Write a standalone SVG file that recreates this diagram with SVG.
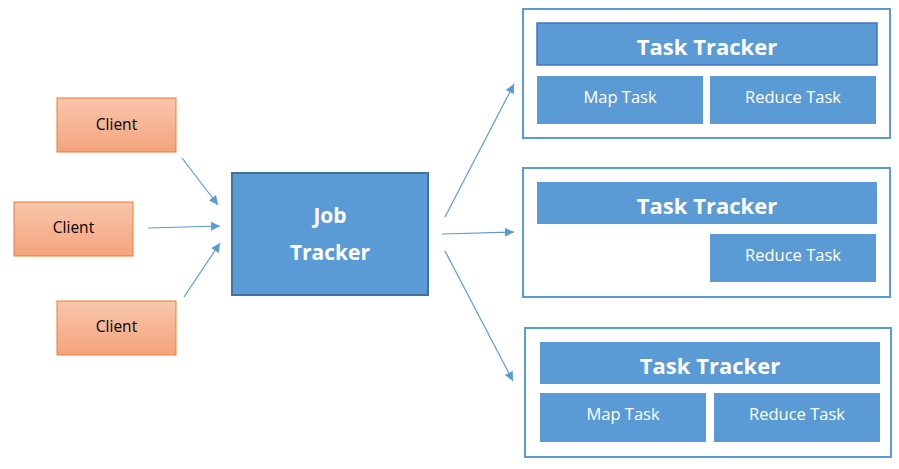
<svg xmlns="http://www.w3.org/2000/svg" width="899" height="469" viewBox="0 0 899 469">
<defs>
<linearGradient id="cg" x1="0" y1="0" x2="0" y2="1">
<stop offset="0" stop-color="#f8c6ab"/>
<stop offset="1" stop-color="#f4a47d"/>
</linearGradient>
<marker id="ah" viewBox="0 0 10 10" refX="10" refY="5" markerWidth="10" markerHeight="9" markerUnits="userSpaceOnUse" orient="auto">
<path d="M0,0 L10,5 L0,10 z" fill="#5b9bd5"/>
</marker>
</defs>
<style>
.client{fill:url(#cg);stroke:#ed7d31;stroke-width:1}
.ct{font-family:"Open Sans","Liberation Sans",sans-serif;font-size:15.5px;fill:#000;text-anchor:middle}
.job{fill:#5b9bd5;stroke:#41719c;stroke-width:2}
.jt{font-family:"Open Sans","Liberation Sans",sans-serif;font-size:21px;font-weight:bold;fill:#fff;text-anchor:middle}
.outer{fill:#fff;stroke:#5b9bd5;stroke-width:2}
.hdr{fill:#5b9bd5}
.task{fill:#5b9bd5}
.ht{font-family:"Open Sans","Liberation Sans",sans-serif;font-size:22px;font-weight:bold;fill:#fff;text-anchor:middle}
.tt{font-family:"Open Sans","Liberation Sans",sans-serif;font-size:16.5px;fill:#fff;text-anchor:middle}
.conn{stroke:#5b9bd5;stroke-width:1.2;fill:none;marker-end:url(#ah)}
</style>
<rect width="899" height="469" fill="#fff"/>
<g id="client1"><rect class="client" x="57" y="98" width="119" height="54"/><text class="ct" x="116.5" y="130">Client</text></g>
<g id="client2"><rect class="client" x="14" y="202" width="119" height="54"/><text class="ct" x="73.5" y="233">Client</text></g>
<g id="client3"><rect class="client" x="57" y="301" width="119" height="54"/><text class="ct" x="116.5" y="332">Client</text></g>
<g id="jobtracker"><rect class="job" x="232" y="173" width="196" height="122"/><text class="jt" x="330" y="223">Job</text><text class="jt" x="330" y="260">Tracker</text></g>
<g id="tasktracker1">
<rect class="outer" x="523" y="9" width="367" height="129"/>
<rect class="hdr" x="537" y="23" width="340" height="42" stroke="#4472c4" stroke-width="1.5"/>
<text class="ht" x="707" y="55">Task Tracker</text>
<rect class="task" x="537" y="76" width="166" height="48"/><text class="tt" x="620" y="103">Map Task</text>
<rect class="task" x="710" y="76" width="166" height="48"/><text class="tt" x="793" y="103">Reduce Task</text>
</g>
<g id="tasktracker2">
<rect class="outer" x="523" y="168" width="367" height="129"/>
<rect class="hdr" x="537" y="182" width="340" height="42"/>
<text class="ht" x="707" y="214">Task Tracker</text>
<rect class="task" x="710" y="234" width="166" height="48"/><text class="tt" x="793" y="261">Reduce Task</text>
</g>
<g id="tasktracker3">
<rect class="outer" x="525" y="328" width="366" height="129"/>
<rect class="hdr" x="540" y="342" width="340" height="42"/>
<text class="ht" x="710" y="374">Task Tracker</text>
<rect class="task" x="540" y="393" width="166" height="49"/><text class="tt" x="623" y="420">Map Task</text>
<rect class="task" x="714" y="393" width="166" height="49"/><text class="tt" x="797" y="420">Reduce Task</text>
</g>
<g id="connectors">
<line class="conn" x1="182" y1="158" x2="218" y2="205"/>
<line class="conn" x1="148" y1="228" x2="220" y2="226"/>
<line class="conn" x1="184" y1="297" x2="220" y2="243"/>
<line class="conn" x1="445" y1="217" x2="514" y2="84"/>
<line class="conn" x1="442" y1="234" x2="514" y2="232"/>
<line class="conn" x1="445" y1="251" x2="513" y2="381"/>
</g>
</svg>
